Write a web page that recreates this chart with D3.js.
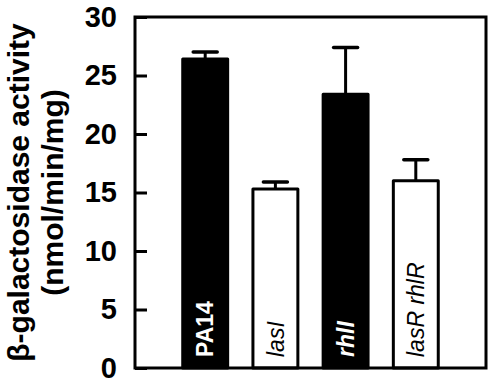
<!DOCTYPE html>
<html>
<head>
<meta charset="utf-8">
<script src="https://cdn.jsdelivr.net/npm/d3@7"></script>
<style>
  html, body { margin: 0; padding: 0; background: #fff; }
  svg { display: block; }
</style>
</head>
<body>
<svg id="chart" width="494" height="385"></svg>
<script>
const categories = ["PA14", "lasI", "rhlI", "lasR rhlR"];
const values = [26.4, 15.3, 23.4, 16.0];
const errors = [0.6, 0.6, 4.0, 1.8];
const yTicks = [0, 5, 10, 15, 20, 25, 30];
const yTitle = ["β-galactosidase activity", "(nmol/min/mg)"];

const barFill = ["#000", "#fff", "#000", "#fff"];
const labelColor = ["#fff", "#000", "#fff", "#000"];
const labelWeight = ["bold", "normal", "bold", "normal"];
const labelStyle = ["normal", "italic", "italic", "italic"];

const W = 494, H = 385;
const m = { left: 135, right: 8, top: 17, bottom: 17 };
const svg = d3.select("#chart");
const font = "'Liberation Sans', Arial, sans-serif";

const x = d3.scaleBand().domain(categories)
  .range([m.left, W - m.right]).paddingInner(0.36).paddingOuter(0.68);
const y = d3.scaleLinear().domain([0, 30]).range([H - m.bottom, m.top]);

// bars
const g = svg.append("g");
g.selectAll("rect.bar").data(categories).join("rect")
  .attr("class", "bar")
  .attr("x", d => x(d))
  .attr("width", x.bandwidth())
  .attr("y", (d, i) => y(values[i]))
  .attr("height", (d, i) => y(0) - y(values[i]))
  .attr("fill", (d, i) => barFill[i])
  .attr("stroke", "#000").attr("stroke-width", 3)
  .attr("stroke-linejoin", "round");

// error bars
g.selectAll("line.err").data(categories).join("line")
  .attr("x1", d => x(d) + x.bandwidth() / 2)
  .attr("x2", d => x(d) + x.bandwidth() / 2)
  .attr("y1", (d, i) => y(values[i]))
  .attr("y2", (d, i) => y(values[i] + errors[i]))
  .attr("stroke", "#000").attr("stroke-width", 3);
g.selectAll("line.cap").data(categories).join("line")
  .attr("x1", d => x(d) + x.bandwidth() / 2 - 12)
  .attr("x2", d => x(d) + x.bandwidth() / 2 + 12)
  .attr("y1", (d, i) => y(values[i] + errors[i]))
  .attr("y2", (d, i) => y(values[i] + errors[i]))
  .attr("stroke", "#000").attr("stroke-width", 3.5).attr("stroke-linecap", "round");

// labels inside bars
g.selectAll("text.lab").data(categories).join("text")
  .attr("transform", d => `translate(${x(d) + x.bandwidth() / 2},${y(0) - 11}) rotate(-90)`)
  .attr("dy", "0.36em")
  .attr("fill", (d, i) => labelColor[i])
  .attr("font-family", font)
  .attr("font-size", 23)
  .attr("font-weight", (d, i) => labelWeight[i])
  .attr("font-style", (d, i) => labelStyle[i])
  .text(d => d);

// axis
const axis = d3.axisLeft(y).tickValues(yTicks).tickSizeInner(-12).tickSizeOuter(0).tickPadding(18);
const ag = svg.append("g").attr("transform", `translate(${m.left},0)`).call(axis);
ag.select(".domain").remove();
ag.selectAll(".tick line").attr("stroke", "#000").attr("stroke-width", 3);
ag.selectAll(".tick text").attr("font-family", font).attr("font-size", 29)
  .attr("font-weight", "bold").attr("fill", "#000");

// frame
svg.append("rect")
  .attr("x", m.left).attr("y", m.top)
  .attr("width", W - m.right - m.left).attr("height", H - m.bottom - m.top)
  .attr("fill", "none").attr("stroke", "#000").attr("stroke-width", 3);

// y title
const cy = (y(0) + y(30)) / 2;
svg.append("text")
  .attr("transform", `translate(18,${cy}) rotate(-90)`)
  .attr("text-anchor", "middle").attr("dy", "0.36em")
  .attr("font-family", font).attr("font-size", 30).attr("font-weight", "bold")
  .text(yTitle[0]);
svg.append("text")
  .attr("transform", `translate(52,${cy}) rotate(-90)`)
  .attr("text-anchor", "middle").attr("dy", "0.36em")
  .attr("font-family", font).attr("font-size", 30).attr("font-weight", "bold")
  .text(yTitle[1]);
</script>
</body>
</html>
